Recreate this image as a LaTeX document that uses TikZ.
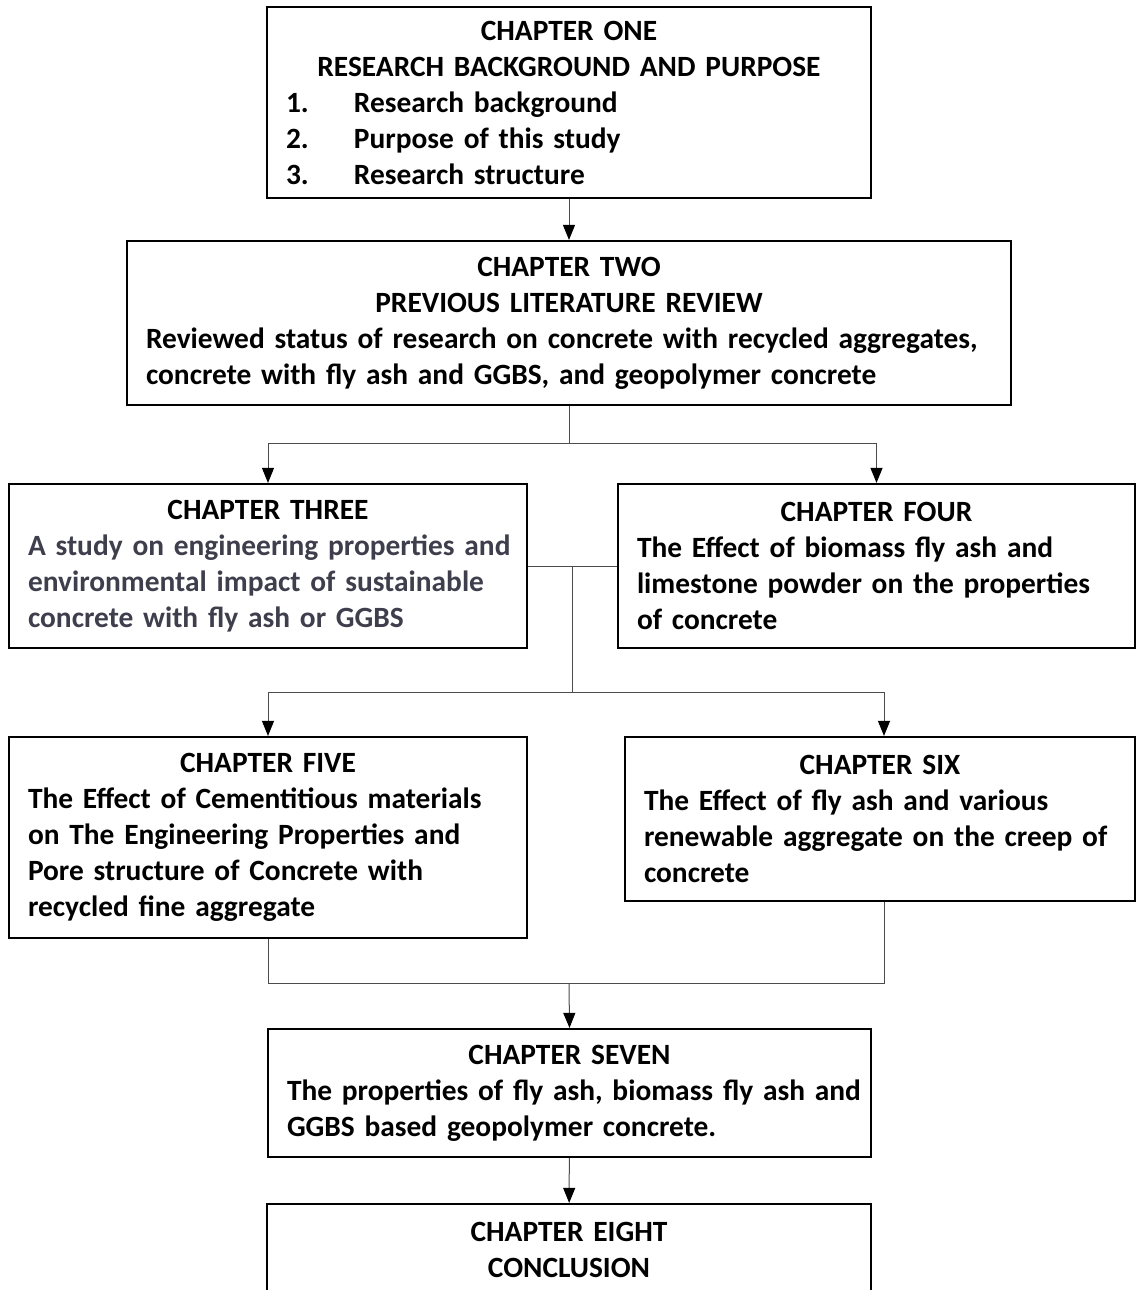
\documentclass[tikz,border=0pt]{standalone}
\usepackage{fontspec}
\setmainfont{Carlito}
\usepackage{xcolor}
\usepackage{tikz}
\usetikzlibrary{arrows.meta,positioning}
\definecolor{bodygray}{RGB}{62,62,76}

\begin{document}
\begin{tikzpicture}[
    x=0.5pt, y=-0.5pt,
    font=\fontsize{14.7}{18}\selectfont\bfseries,
    chapter/.style={rectangle, draw=black, line width=1.1pt, inner xsep=9.5pt, inner ysep=0pt, align=left},
    link/.style={draw=black!70, line width=0.5pt},
    arrow/.style={link, -{Triangle[width=6pt,length=7.5pt,color=black]}}
]
    \useasboundingbox (0,0) rectangle (1135,1290);

    % Chapters
    \node[chapter, text width=283pt, minimum height=95.5pt] (one) at (569,102.5)
        {{\centering CHAPTER ONE\\ RESEARCH BACKGROUND AND PURPOSE\par}
         \makebox[34pt][l]{1.}Research background\\
         \makebox[34pt][l]{2.}Purpose of this study\\
         \makebox[34pt][l]{3.}Research structure};
    \node[chapter, text width=423pt, minimum height=82pt] (two) at (569,323)
        {{\centering CHAPTER TWO\\ PREVIOUS LITERATURE REVIEW\par}
         \mbox{Reviewed status of research on concrete with recycled aggregates,}\\
         concrete with fly ash and GGBS, and geopolymer concrete};
    \node[chapter, text width=240pt, minimum height=82pt] (three) at (268,566)
        {{\centering CHAPTER THREE\par}
         {\color{bodygray}\mbox{A study on engineering properties and}\\
         \mbox{environmental impact of sustainable}\\
         \mbox{concrete with fly ash or GGBS}}};
    \node[chapter, text width=239.5pt, minimum height=82pt] (four) at (876.5,566)
        {{\centering CHAPTER FOUR\par}
         The Effect of biomass fly ash and\\ \mbox{limestone powder on the properties}\\
         of concrete};
    \node[chapter, text width=240pt, minimum height=100.5pt] (five) at (268,837.5)
        {{\centering CHAPTER FIVE\par}
         \mbox{The Effect of Cementitious materials}\\ \mbox{on The Engineering Properties and}\\
         Pore structure of Concrete with\\ recycled fine aggregate};
    \node[chapter, text width=236pt, minimum height=82pt] (six) at (880,819)
        {{\centering CHAPTER SIX\par}
         The Effect of fly ash and various\\ \mbox{renewable aggregate on the creep of}\\
         concrete};
    \node[chapter, text width=282.5pt, minimum height=64pt] (seven) at (569.5,1093)
        {{\centering CHAPTER SEVEN\par}
         \mbox{The properties of fly ash, biomass fly ash and}\\
         GGBS based geopolymer concrete.};
    \node[chapter, text width=283pt, minimum height=46pt, align=center] (eight) at (569,1250)
        {CHAPTER EIGHT\\ CONCLUSION};

    % Junctions
    \coordinate (split) at (569,443);
    \coordinate (mid) at (572,566);
    \coordinate (fork) at (572,692);
    \coordinate (merge) at (569,983);

    % Arrows
    \draw[arrow] (one) -- (two);
    \draw[link] (two.south) -- (split);
    \draw[arrow] (split) -| (three.north);
    \draw[arrow] (split) -| (four.north);
    \draw[link] (three.east) -- (four.west);
    \draw[link] (mid) -- (fork);
    \draw[arrow] (fork) -| (five.north);
    \draw[arrow] (fork) -| ([xshift=2pt]six.north);
    \draw[link] (five.south) |- (merge) -| ([xshift=2pt]six.south);
    \draw[arrow] (merge) -- (seven.north);
    \draw[arrow] (seven) -- (eight);
\end{tikzpicture}
\end{document}
